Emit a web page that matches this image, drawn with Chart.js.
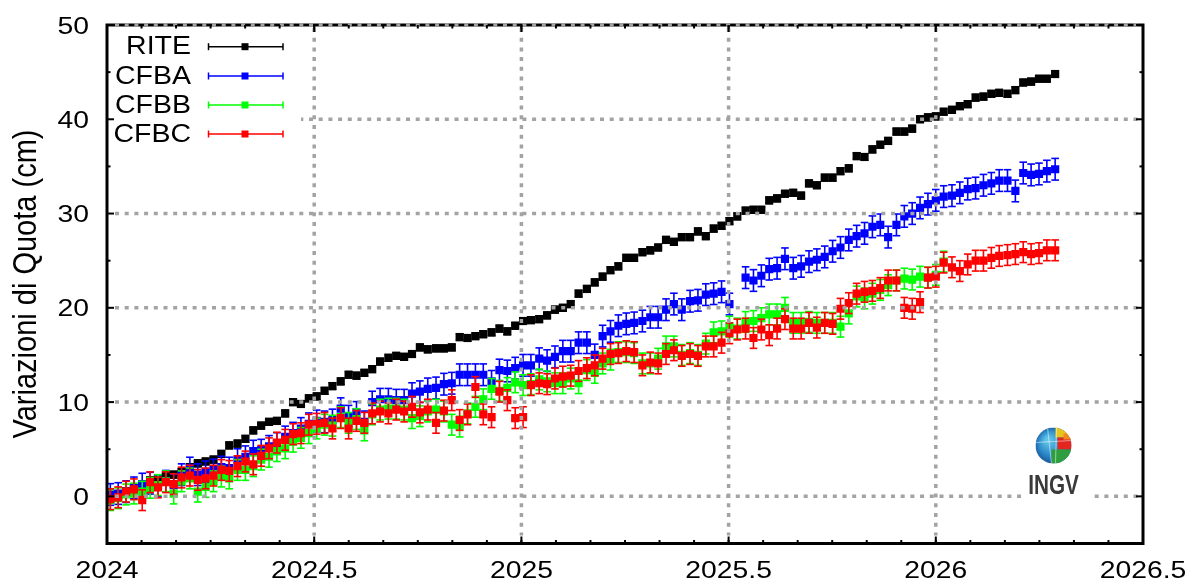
<!DOCTYPE html>
<html>
<head>
<meta charset="utf-8">
<title>Variazioni di Quota</title>
<script src="https://cdn.jsdelivr.net/npm/chart.js@4.4.1/dist/chart.umd.min.js"></script>
<style>
  html, body { margin: 0; padding: 0; background: #fff; }
  #wrap { position: relative; width: 1195px; height: 581px; }
</style>
</head>
<body>
<div id="wrap"><canvas id="chart"></canvas></div>
<script>
// Settimane di misura (anno decimale)
const weeks = [
  2024.008, 2024.027, 2024.046, 2024.065, 2024.085, 2024.104, 2024.123, 2024.142, 2024.161, 2024.180,
  2024.200, 2024.219, 2024.238, 2024.257, 2024.276, 2024.295, 2024.315, 2024.334, 2024.353, 2024.372,
  2024.391, 2024.410, 2024.430, 2024.449, 2024.468, 2024.487, 2024.506, 2024.525, 2024.544, 2024.564,
  2024.583, 2024.602, 2024.621, 2024.640, 2024.659, 2024.679, 2024.698, 2024.717, 2024.736, 2024.755,
  2024.774, 2024.794, 2024.813, 2024.832, 2024.851, 2024.870, 2024.889, 2024.908, 2024.928, 2024.947,
  2024.966, 2024.985, 2025.004, 2025.023, 2025.043, 2025.062, 2025.081, 2025.100, 2025.119, 2025.138,
  2025.158, 2025.177, 2025.196, 2025.215, 2025.234, 2025.253, 2025.272, 2025.292, 2025.311, 2025.330,
  2025.349, 2025.368, 2025.387, 2025.407, 2025.426, 2025.445, 2025.464, 2025.483, 2025.502, 2025.521,
  2025.541, 2025.560, 2025.579, 2025.598, 2025.617, 2025.636, 2025.656, 2025.675, 2025.694, 2025.713,
  2025.732, 2025.751, 2025.770, 2025.790, 2025.809, 2025.828, 2025.847, 2025.866, 2025.885, 2025.905,
  2025.924, 2025.943, 2025.962, 2025.981, 2026.000, 2026.019, 2026.039, 2026.058, 2026.077, 2026.096,
  2026.115, 2026.134, 2026.153, 2026.173, 2026.192, 2026.211, 2026.230, 2026.249, 2026.268, 2026.288
];

// Variazioni di quota (cm) per stazione
const rite = [
  0.15, 0.2, 0.5, 0.7, 1.0, 1.7, 1.9, 2.3, 2.3, 2.6,
  3.1, 3.5, 3.7, 3.9, 4.5, 5.4, 5.6, 6.1, 7.0, 7.5,
  7.9, 8.0, 8.8, 10.0, 9.8, 10.4, 10.6, 11.2, 11.7, 12.2,
  12.9, 12.8, 13.1, 13.5, 14.3, 14.7, 14.9, 14.8, 15.1, 15.8,
  15.6, 15.7, 15.7, 15.8, 16.9, 16.8, 17.0, 17.2, 17.4, 17.8,
  17.5, 18.1, 18.6, 18.7, 18.8, 19.2, 19.8, 20.0, 20.4, 21.5,
  22.0, 22.7, 23.3, 24.0, 24.4, 25.3, 25.3, 25.9, 26.1, 26.4,
  27.2, 27.0, 27.5, 27.5, 28.1, 27.6, 28.4, 28.7, 29.2, 29.7,
  30.3, 30.4, 30.4, 31.4, 31.6, 32.1, 32.2, 31.9, 33.2, 33.0,
  33.8, 33.8, 34.5, 34.8, 36.1, 36.0, 36.8, 37.3, 37.7, 38.7,
  38.7, 39.0, 40.0, 40.2, 40.3, 40.8, 41.0, 41.4, 41.6, 42.3,
  42.4, 42.7, 42.8, 42.7, 43.1, 43.9, 44.0, 44.3, 44.3, 44.8
];
const cfba = [
  0.2, 0.3, 0.5, 0.9, 1.3, 1.4, 1.1, 1.6, 1.2, 2.3,
  3.0, 2.3, 2.6, 2.8, 3.1, 3.0, 3.9, 4.2, 4.8, 4.9,
  5.3, 5.6, 6.3, 6.7, 7.2, 7.7, 8.0, 7.9, 8.1, 9.3,
  8.5, 8.9, 7.9, 10.0, 10.3, 10.3, 10.2, 10.2, 10.9, 11.1,
  11.4, 11.5, 11.9, 12.0, 12.9, 12.9, 12.9, 12.9, 12.2, 13.4,
  13.3, 13.6, 13.9, 13.9, 14.6, 14.4, 14.8, 15.4, 15.4, 16.3,
  16.3, 15.0, 17.0, 17.5, 18.1, 18.3, 18.4, 18.6, 19.0, 19.0,
  19.8, 20.4, 19.8, 20.7, 20.8, 21.4, 21.5, 21.7, 20.4, null,
  23.2, 22.9, 23.4, 24.1, 24.2, 25.2, 24.2, 24.4, 24.9, 25.1,
  25.4, 26.0, 26.4, 27.2, 27.6, 27.9, 28.6, 28.8, 27.5, 28.8,
  29.7, 30.0, 30.6, 31.0, 31.4, 31.8, 31.9, 32.2, 32.6, 32.7,
  33.0, 33.2, 33.5, 33.5, 32.4, 34.3, 34.1, 34.2, 34.5, 34.7
];
const cfbb = [
  -0.4, -0.2, 0.2, 0.3, 0.5, 0.9, 1.2, 1.6, 0.3, 1.6,
  1.9, 0.5, 1.0, 1.6, 2.1, 1.9, 2.8, 2.8, 3.2, 3.9,
  4.2, 4.8, 5.1, 5.8, 6.2, 6.7, 7.2, 7.6, 7.5, 8.4,
  7.8, 8.2, 7.0, 8.7, 9.2, 9.3, 9.3, 9.2, 8.3, 8.5,
  9.0, 9.2, 9.0, 7.6, 7.4, 8.8, 9.5, 10.3, 11.4, 11.2,
  11.5, 12.1, 11.8, 11.9, 12.4, 12.2, 12.0, 12.0, 12.5, 12.0,
  13.4, 13.1, 14.1, 14.5, 15.3, 15.3, 15.2, 14.1, 14.1, 14.6,
  15.9, 15.9, 15.0, 15.2, 15.0, 16.2, 17.4, 17.5, 18.0, 17.8,
  18.5, 18.6, 18.9, 19.3, 19.3, 20.0, 18.4, 18.4, 18.5, 18.4,
  18.4, 18.4, 18.0, 19.4, 21.2, 21.0, 21.5, 21.9, 22.4, 22.9,
  23.1, 23.0, 23.3, 23.2, 23.5, 24.9, null, null, null, null,
  null, null, null, null, null, null, null, null, null, null
];
const cfbc = [
  -0.3, -0.1, 0.5, 0.75, -0.4, 1.5, 0.95, 1.5, 1.3, 2.0,
  2.2, 1.75, 1.9, 2.2, 2.8, 2.7, 3.2, 3.7, 3.4, 4.3,
  5.1, 5.7, 6.0, 6.6, 6.7, 7.6, 7.7, 7.8, 7.2, 8.3,
  7.2, 8.0, 7.8, 8.8, 9.0, 8.8, 9.2, 9.0, 9.5, 8.9,
  9.2, 7.8, 9.1, 10.2, 8.1, 8.7, 11.6, 8.7, 8.4, 11.1,
  10.2, 8.3, 8.4, 11.8, 12.0, 11.9, 12.5, 12.7, 12.8, 13.3,
  13.6, 13.9, 14.6, 15.1, 15.2, 15.4, 15.3, 13.9, 14.2, 14.1,
  15.1, 15.5, 14.9, 15.1, 14.9, 15.9, 15.9, 16.3, 17.3, 17.7,
  17.8, 16.8, 17.7, 17.1, 17.8, 18.8, 17.8, 17.8, 18.4, 17.9,
  18.4, 18.3, 19.9, 20.5, 21.5, 21.7, 21.8, 22.1, 22.9, 22.9,
  20.0, 19.9, 20.6, 23.2, 23.3, 24.8, 24.3, 23.9, 24.6, 25.0,
  25.0, 25.3, 25.5, 25.6, 25.7, 25.9, 25.7, 25.8, 26.1, 26.1
];

// Errori (cm)
const riteErr = 0.35;
const cfbaErr = 1.15;
const cfbbErr = 1.1;
const cfbcErr = 1.1;

// Assi
const xTicks = [2024, 2024.5, 2025, 2025.5, 2026, 2026.5];
const yTicks = [0, 10, 20, 30, 40, 50];
const xMinorStep = 1 / 12;
const yMinorStep = 5;
const yTitle = 'Variazioni di Quota (cm)';

const series = [
  { label: 'RITE', values: rite, err: riteErr, color: '#000000' },
  { label: 'CFBA', values: cfba, err: cfbaErr, color: '#0000ff' },
  { label: 'CFBB', values: cfbb, err: cfbbErr, color: '#00ff00' },
  { label: 'CFBC', values: cfbc, err: cfbcErr, color: '#ff0000' }
];

const FONT = '"Liberation Sans", Arial, sans-serif';

function toPoints(values) {
  return weeks.map((x, i) => ({ x: x, y: values[i] })).filter(p => p.y !== null);
}

function line(ctx, x1, y1, x2, y2) {
  ctx.beginPath();
  ctx.moveTo(x1, y1);
  ctx.lineTo(x2, y2);
  ctx.stroke();
}

// testo con eventuale stiramento orizzontale
function drawText(ctx, text, x, y, o) {
  ctx.save();
  ctx.translate(x, y);
  if (o.rotate) ctx.rotate(o.rotate);
  ctx.scale(o.sx || 1, o.sy || 1);
  ctx.font = o.font;
  ctx.fillStyle = o.color || '#000';
  ctx.textAlign = o.align || 'left';
  ctx.textBaseline = o.baseline || 'alphabetic';
  ctx.fillText(text, 0, 0);
  ctx.restore();
}

function errorBar(ctx, px, yTop, yBot, cap) {
  line(ctx, px, yTop, px, yBot);
  line(ctx, px - cap, yTop, px + cap, yTop);
  line(ctx, px - cap, yBot, px + cap, yBot);
}

// Barre d'errore sotto i punti di ogni serie
const errorBarsPlugin = {
  id: 'errorBars',
  beforeDatasetDraw(chart, args) {
    const ds = chart.data.datasets[args.index];
    const y = chart.scales.y;
    const ctx = chart.ctx;
    ctx.save();
    ctx.strokeStyle = ds.backgroundColor;
    ctx.lineWidth = 1.6;
    args.meta.data.forEach((el, i) => {
      const v = ds.data[i].y;
      errorBar(ctx, el.x, y.getPixelForValue(v + ds.errValue), y.getPixelForValue(v - ds.errValue), 3.8);
    });
    ctx.restore();
  }
};

// Cornice e griglia (la griglia sta sopra i dati)
const frameGridPlugin = {
  id: 'frameGrid',
  afterDatasetsDraw(chart) {
    const { ctx, chartArea: a, scales: { x, y } } = chart;
    ctx.save();
    ctx.strokeStyle = '#000';
    ctx.lineWidth = 3;
    ctx.strokeRect(a.left, a.top, a.right - a.left, a.bottom - a.top);

    ctx.strokeStyle = '#a3a3a3';
    ctx.lineWidth = 3.5;
    ctx.setLineDash([4, 5.7]);
    xTicks.forEach(v => {
      if (v <= x.min || v >= x.max) return;
      const px = x.getPixelForValue(v);
      line(ctx, px, a.top + 3, px, a.bottom - 8);
    });
    yTicks.forEach(v => {
      const py = y.getPixelForValue(v);
      line(ctx, a.left + 8, py, a.right - 5, py);
    });
    ctx.restore();
  }
};

function drawLogo(ctx, cx, cy) {
  ctx.save();
  ctx.fillStyle = '#fff';
  ctx.fillRect(cx - 32, cy - 22, 70, 75);

  // globo
  ctx.beginPath();
  ctx.arc(cx, cy, 18, 0, Math.PI * 2);
  ctx.clip();
  const g = ctx.createRadialGradient(cx - 6, cy - 6, 2, cx, cy, 20);
  g.addColorStop(0, '#5fc4e8');
  g.addColorStop(0.6, '#2a86c6');
  g.addColorStop(1, '#17508f');
  ctx.fillStyle = g;
  ctx.fillRect(cx - 18, cy - 18, 36, 36);
  ctx.fillStyle = '#e8c51e';
  ctx.fillRect(cx + 2, cy - 18, 16, 10);
  ctx.fillStyle = '#e3261f';
  ctx.fillRect(cx + 4, cy - 8, 14, 12);
  ctx.fillStyle = '#2f9e3e';
  ctx.fillRect(cx - 2, cy + 4, 20, 14);
  ctx.fillStyle = '#f08a1c';
  ctx.fillRect(cx + 10, cy - 12, 8, 6);
  ctx.strokeStyle = 'rgba(255,255,255,0.5)';
  ctx.lineWidth = 1;
  line(ctx, cx - 6, cy - 18, cx - 2, cy + 18);
  line(ctx, cx + 3, cy - 18, cx + 2, cy + 18);
  line(ctx, cx - 18, cy - 3, cx + 18, cy - 5);
  ctx.restore();

  drawText(ctx, 'INGV', cx, cy + 48, { font: 'bold 28px ' + FONT, sx: 0.74, align: 'center', color: '#3a3a3a' });
}

// Legenda, etichette, tacche e logo
const decorPlugin = {
  id: 'decor',
  afterDraw(chart) {
    const { ctx, chartArea: a, scales: { x, y } } = chart;
    ctx.save();

    // legenda
    ctx.fillStyle = '#fff';
    ctx.fillRect(a.left + 2, a.top + 2, 192, 122);
    const rowY = [46.7, 76, 105, 134];
    series.forEach((s, i) => {
      const ry = rowY[i];
      drawText(ctx, s.label, 191, ry + 7.5, { font: '25px ' + FONT, sx: 1.14, align: 'right' });
      ctx.strokeStyle = s.color;
      ctx.lineWidth = 1.5;
      line(ctx, 208.5, ry, 283, ry);
      line(ctx, 208.5, ry - 3.5, 208.5, ry + 3.5);
      line(ctx, 283, ry - 3.5, 283, ry + 3.5);
      ctx.fillStyle = s.color;
      ctx.fillRect(245 - 3.5, ry - 3.5, 7, 7);
    });

    drawLogo(ctx, 1053.5, 445.5);

    // tacche interne
    ctx.strokeStyle = '#000';
    ctx.lineWidth = 2;
    xTicks.forEach(v => {
      const px = x.getPixelForValue(v);
      line(ctx, px, a.bottom, px, a.bottom - 7);
      line(ctx, px, a.top, px, a.top + 7);
    });
    for (let v = x.min + xMinorStep; v < x.max - 1e-6; v += xMinorStep) {
      const px = x.getPixelForValue(v);
      line(ctx, px, a.bottom, px, a.bottom - 3.5);
      line(ctx, px, a.top, px, a.top + 3.5);
    }
    yTicks.forEach(v => {
      const py = y.getPixelForValue(v);
      line(ctx, a.left, py, a.left + 7, py);
      line(ctx, a.right, py, a.right - 7, py);
    });
    for (let v = 0; v < y.max; v += yMinorStep) {
      if (v % 10 === 0) continue;
      const py = y.getPixelForValue(v);
      line(ctx, a.left, py, a.left + 3.5, py);
      line(ctx, a.right, py, a.right - 3.5, py);
    }

    // etichette
    yTicks.forEach(v => {
      drawText(ctx, String(v), 89, y.getPixelForValue(v) + 8.6, { font: '24px ' + FONT, sx: 1.18, align: 'right' });
    });
    xTicks.forEach(v => {
      drawText(ctx, String(v), x.getPixelForValue(v), 577.5, { font: '24px ' + FONT, sx: 1.18, align: 'center' });
    });
    drawText(ctx, yTitle, 27, 284, { font: '29px ' + FONT, rotate: -Math.PI / 2, sy: 1.12, align: 'center', baseline: 'middle' });

    ctx.restore();
  }
};

const datasets = series.map((s, i) => ({
  label: s.label,
  data: toPoints(s.values),
  errValue: s.err,
  backgroundColor: s.color,
  borderColor: s.color,
  borderWidth: 0,
  pointStyle: 'rect',
  pointRadius: 5.8,
  showLine: false,
  order: series.length - i
}));

new Chart(document.getElementById('chart'), {
  type: 'scatter',
  data: { datasets: datasets },
  options: {
    responsive: true,
    maintainAspectRatio: false,
    animation: false,
    events: [],
    layout: { padding: { top: 25, right: 52, left: 0, bottom: 0 } },
    plugins: {
      legend: { display: false },
      tooltip: { enabled: false }
    },
    scales: {
      x: {
        type: 'linear',
        min: 2024,
        max: 2026.5,
        afterBuildTicks: s => { s.ticks = xTicks.map(v => ({ value: v })); },
        afterFit: s => { s.height = 37.5; },
        ticks: { display: false },
        grid: { display: false, drawTicks: false },
        border: { display: false }
      },
      y: {
        type: 'linear',
        min: -5,
        max: 50,
        afterBuildTicks: s => { s.ticks = yTicks.map(v => ({ value: v })); },
        afterFit: s => { s.width = 107; },
        ticks: { display: false },
        grid: { display: false, drawTicks: false },
        border: { display: false }
      }
    }
  },
  plugins: [errorBarsPlugin, frameGridPlugin, decorPlugin]
});
</script>
</body>
</html>
